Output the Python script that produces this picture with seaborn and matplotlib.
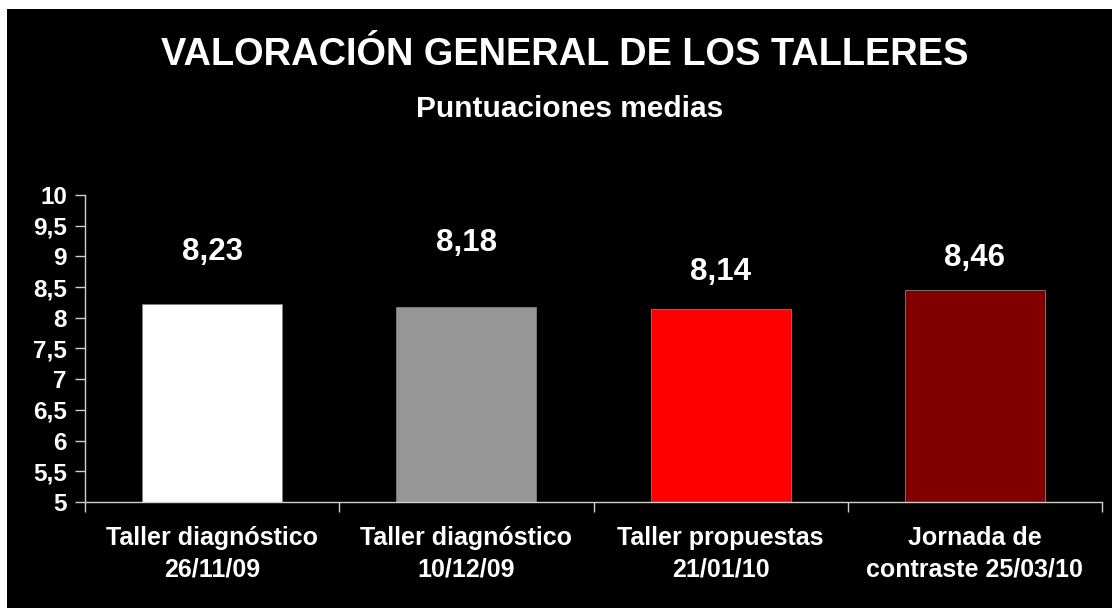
import matplotlib
matplotlib.use("Agg")
import matplotlib.pyplot as plt
import seaborn as sns
import pandas as pd
from matplotlib.patches import Rectangle

# data
talleres = ["Taller diagnóstico\n26/11/09", "Taller diagnóstico\n10/12/09",
            "Taller propuestas\n21/01/10", "Jornada de\ncontraste 25/03/10"]
puntuaciones = [8.23, 8.18, 8.14, 8.46]
etiquetas = ["8,23", "8,18", "8,14", "8,46"]
y_ticks = [5, 5.5, 6, 6.5, 7, 7.5, 8, 8.5, 9, 9.5, 10]
y_tick_labels = ["5", "5,5", "6", "6,5", "7", "7,5", "8", "8,5", "9", "9,5", "10"]

colores = ["#FFFFFF", "#969696", "#FF0000", "#800000"]
label_offsets = [52, 64, 37, 32]  # pixels above bar top, as placed in original

df = pd.DataFrame({"taller": talleres, "puntuacion": puntuaciones})

sns.set_theme(style="dark")
plt.rcParams["font.family"] = ["Liberation Sans", "DejaVu Sans"]

fig = plt.figure(figsize=(11.12, 6.08), dpi=100, facecolor="white")
# black panel with thin white margin top/left
fig.patches.append(Rectangle((7 / 1112, 0), 1 - 7 / 1112, 1 - 9 / 608,
                             transform=fig.transFigure, facecolor="black",
                             edgecolor="none", zorder=-5))

ax = fig.add_axes([85 / 1112, 1 - 502 / 608, (1102 - 85) / 1112, (502 - 195) / 608])
ax.set_zorder(2)
ax.set_facecolor("black")

sns.barplot(data=df, x="taller", y="puntuacion", hue="taller", palette=colores,
            saturation=1, legend=False, width=0.55, ax=ax, edgecolor="#808080",
            linewidth=0.6, zorder=2)

ax.set_ylim(5, 10)
ax.set_xlim(-0.5, 3.5)
ax.set_yticks(y_ticks)
ax.set_yticklabels(y_tick_labels, fontsize=17.5, fontweight="bold", color="white")
ax.set_xticks(range(4))
ax.set_xticklabels(talleres, fontsize=18, fontweight="bold", color="white",
                   linespacing=1.4)
ax.set_xticks([-0.5, 0.5, 1.5, 2.5, 3.5], minor=True)
ax.tick_params(axis="x", which="major", length=0, pad=17)
ax.tick_params(axis="x", which="minor", length=7, width=1, color="#d0d0d0",
               direction="out", bottom=True)
ax.tick_params(axis="y", length=7, width=1, color="#d0d0d0", direction="out",
               left=True, pad=6)
ax.set_xlabel("")
ax.set_ylabel("")
ax.grid(False)

for s in ["top", "right"]:
    ax.spines[s].set_visible(False)
for s in ["left", "bottom"]:
    ax.spines[s].set_visible(True)
    ax.spines[s].set_color("#d0d0d0")
    ax.spines[s].set_linewidth(1)

for i, (v, t) in enumerate(zip(puntuaciones, etiquetas)):
    ax.annotate(t, (i, v), xytext=(0, label_offsets[i]), textcoords="offset pixels",
                ha="center", va="center", fontsize=22.5, fontweight="bold",
                color="white")

fig.text(565 / 1112, 1 - 55 / 608, "VALORACIÓN GENERAL DE LOS TALLERES",
         ha="center", va="center", fontsize=27.4, fontweight="bold", color="white")
fig.text(570 / 1112, 1 - 109 / 608, "Puntuaciones medias",
         ha="center", va="center", fontsize=21.5, fontweight="bold", color="white")

fig.savefig("out.png", dpi=100, facecolor="white")
